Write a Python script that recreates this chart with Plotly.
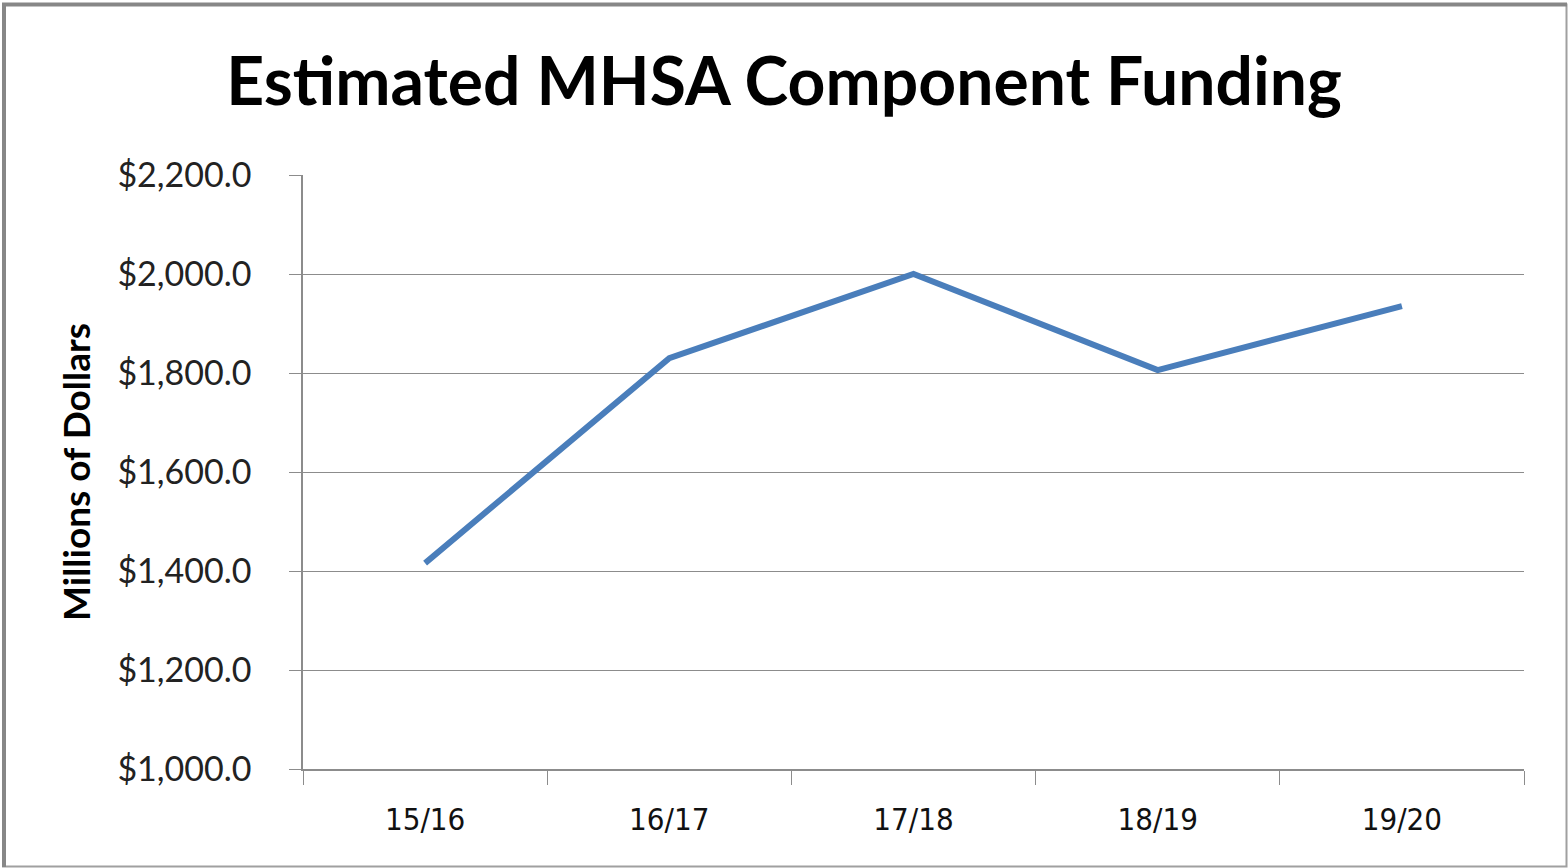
import plotly.graph_objects as go

categories = ["15/16", "16/17", "17/18", "18/19", "19/20"]
funding = [1416, 1830, 2000, 1806, 1935]
y_ticks = [1000, 1200, 1400, 1600, 1800, 2000, 2200]
y_tick_labels = ["$1,000.0", "$1,200.0", "$1,400.0", "$1,600.0", "$1,800.0", "$2,000.0", "$2,200.0"]

W, H = 1568, 868
L, R, T, B = 303, 44, 175, 99
pw, ph = W - L - R, H - T - B


def px_x(x):
    return (x - L) / pw


def px_y(y):
    return 1 - (y - T) / ph


fig = go.Figure()
fig.add_trace(go.Scatter(
    x=categories, y=funding, mode="lines",
    line=dict(color="#4A7EBB", width=6),
    showlegend=False,
))

grid = "#8c8c8c"
frame = "#878787"
fig.update_layout(
    width=W, height=H,
    margin=dict(l=L, r=R, t=T, b=B),
    paper_bgcolor="white", plot_bgcolor="white",
    title=dict(
        text="<b>Estimated MHSA Component Funding</b>",
        font=dict(family="Lato, Open Sans, sans-serif", size=66, color="black"),
        x=0.5, xanchor="center", y=1 - 82 / H, yanchor="middle",
    ),
    font=dict(family="Lato, Open Sans, sans-serif", color="black"),
    xaxis=dict(
        type="category", range=[-0.5, 4.5],
        showgrid=False, showline=True, linecolor=grid, linewidth=1.5,
        ticks="outside", tickson="boundaries", ticklen=14, tickcolor=grid, tickwidth=1,
        tickfont=dict(size=31, family="DejaVu Sans Condensed, Liberation Sans, sans-serif", color="#111"),
        ticklabelstandoff=22,
    ),
    yaxis=dict(
        range=[1000, 2200], tickvals=y_ticks, ticktext=y_tick_labels,
        showgrid=True, gridcolor=grid, gridwidth=1,
        showline=True, linecolor=grid, linewidth=1.5,
        ticks="outside", ticklen=12, tickcolor=grid, tickwidth=1,
        tickfont=dict(size=34, family="Lato, Open Sans, sans-serif", color="#222"),
        ticklabelstandoff=31,
        zeroline=False,
        title=dict(text="<b>Millions of Dollars</b>",
                   font=dict(size=37, family="Lato, Open Sans, sans-serif"),
                   standoff=15),
    ),
    shapes=[
        dict(type="rect", xref="paper", yref="paper",
             x0=px_x(3), x1=px_x(1566.5), y0=px_y(866.5), y1=px_y(4.5),
             line=dict(color="#a0a0a0", width=2), layer="below"),
        dict(type="line", xref="paper", yref="paper",
             x0=px_x(2), x1=px_x(1567), y0=px_y(4.5), y1=px_y(4.5),
             line=dict(color=frame, width=4), layer="below"),
        dict(type="line", xref="paper", yref="paper",
             x0=px_x(4), x1=px_x(4), y0=px_y(867), y1=px_y(3),
             line=dict(color=frame, width=4), layer="below"),
    ],
)

fig.write_html("out.html", config={"displayModeBar": False},
               post_script="document.body.style.margin='0px';")
